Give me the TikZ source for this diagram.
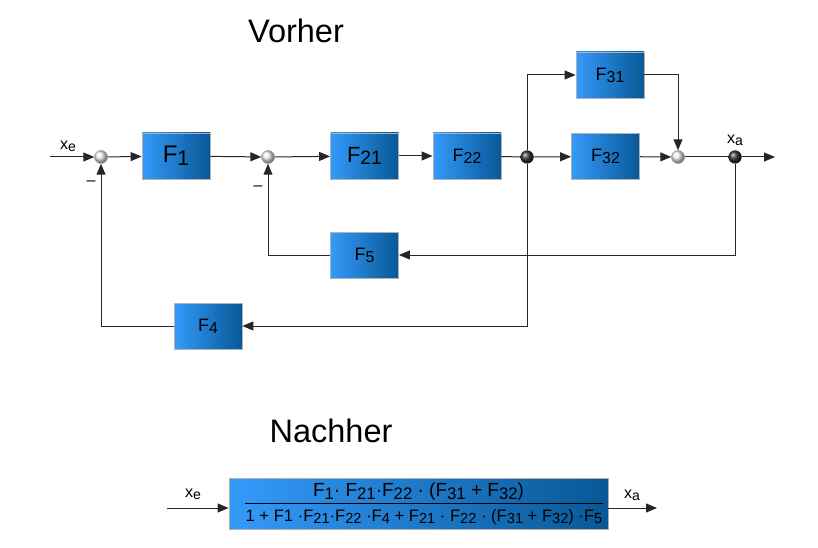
\documentclass[tikz,border=0pt]{standalone}
\usepackage{fontspec}
\setmainfont{Liberation Sans}
\usetikzlibrary{arrows.meta,shadings}
\definecolor{boxl}{RGB}{52,154,250}
\definecolor{boxr}{RGB}{8,88,150}
\newcommand{\sbs}[1]{\raisebox{-0.12em}{\scalebox{0.88}{#1}}}
\newcommand{\fsz}[1]{\fontsize{#1}{#1}\selectfont}
\begin{document}
\begin{tikzpicture}[x=1pt,y=-1pt,
  blk/.style={draw=gray!60, line width=0.8pt, left color=boxl, right color=boxr,
    minimum width=68pt, minimum height=46pt, inner sep=0pt, text=black},
  sumnode/.style={circle, shading=ball, ball color=white!88!gray, draw=gray!60, line width=0.4pt, minimum size=13pt, inner sep=0pt},
  brnode/.style={circle, shading=ball, ball color=black!80, minimum size=13pt, inner sep=0pt},
  conn/.style={draw=black!85, line width=1pt},
  arr/.style={conn, -{Triangle[length=11pt,width=9pt]}},
  lbl/.style={font=\fsz{16}, inner sep=0pt},
  ttl/.style={font=\fsz{32.5}, inner sep=0pt}]
\useasboundingbox (0,0) rectangle (818,548);

\node[ttl] (t1) at (296,31) {Vorher};
\node[ttl] (t2) at (331,431) {Nachher};

% nodes
\node[sumnode] (s1) at (101,157) {};
\node[blk, font=\fsz{24}] (F1) at (176,156) {F\sbs{1}};
\node[sumnode] (s2) at (268,157) {};
\node[blk, font=\fsz{22}] (F21) at (364.5,156) {F\sbs{21}};
\node[blk, font=\fsz{18}] (F22) at (467,156) {F\sbs{22}};
\node[brnode] (b1) at (527,157) {};
\node[blk, font=\fsz{18}] (F31) at (610,75) {F\sbs{31}};
\node[blk, font=\fsz{18}] (F32) at (605.5,156.5) {F\sbs{32}};
\node[sumnode] (s3) at (678,157) {};
\node[brnode] (b2) at (735,157) {};
\node[blk, font=\fsz{18}] (F5) at (364.5,255) {F\sbs{5}};
\node[blk, font=\fsz{18}] (F4) at (208,326) {F\sbs{4}};

\coordinate (in) at (50,157);
\coordinate (out) at (775,157);

\node[lbl] (xe) at (68,146) {x\sbs{e}};
\node[lbl] (xa) at (735,140) {x\sbs{a}};
\node[lbl] (m1) at (91,183) {–};
\node[lbl] (m2) at (258,188) {–};

% connectors
\draw[arr] (in) -- (s1);
\draw[arr] (s1) -- (F1);
\draw[arr] (F1) -- (s2);
\draw[arr] (s2) -- (F21);
\draw[arr] (F21) -- (F22);
\draw[conn] (F22) -- (b1);
\draw[arr] (b1) -- (F32);
\draw[arr] (b1) |- (F31.west);
\draw[arr] (F32) -- (s3);
\draw[arr] (F31.east) -| (s3);
\draw[conn] (s3) -- (b2);
\draw[arr] (b2) -- (out);
\draw[arr] (b2) |- (F5.east);
\draw[arr] (F5.west) -| (s2);
\draw[arr] (b1) |- (F4.east);
\draw[arr] (F4.west) -| (s1);
\node[sumnode] at (s1) {};
\node[sumnode] at (s2) {};
\node[sumnode] at (s3) {};
\node[brnode] at (b1) {};
\node[brnode] at (b2) {};

% bottom
\node[blk, minimum width=379pt, minimum height=51pt] (B) at (418.5,503.5) {};
\node[inner sep=0pt, font=\fsz{19}] (num) at (418.5,492) {F\sbs{1}· F\sbs{21}·F\sbs{22} · (F\sbs{31} + F\sbs{32})};
\node[inner sep=0pt, font=\fsz{16.6}] (den) at (424,517) {1 + F1 ·F\sbs{21}·F\sbs{22} ·F\sbs{4} + F\sbs{21} · F\sbs{22} · (F\sbs{31} + F\sbs{32}) ·F\sbs{5}};
\coordinate (fl) at (245,503);
\coordinate (fr) at (603,503);
\draw[black, line width=0.9pt] (fl) -- (fr);
\coordinate (in2) at (167,508);
\coordinate (out2) at (657,508);
\draw[arr] (in2) -- (in2 -| B.west);
\draw[arr] (B.east |- out2) -- (out2);
\node[lbl] (xe2) at (193,494) {x\sbs{e}};
\node[lbl] (xa2) at (632,495) {x\sbs{a}};
\end{tikzpicture}
\end{document}
